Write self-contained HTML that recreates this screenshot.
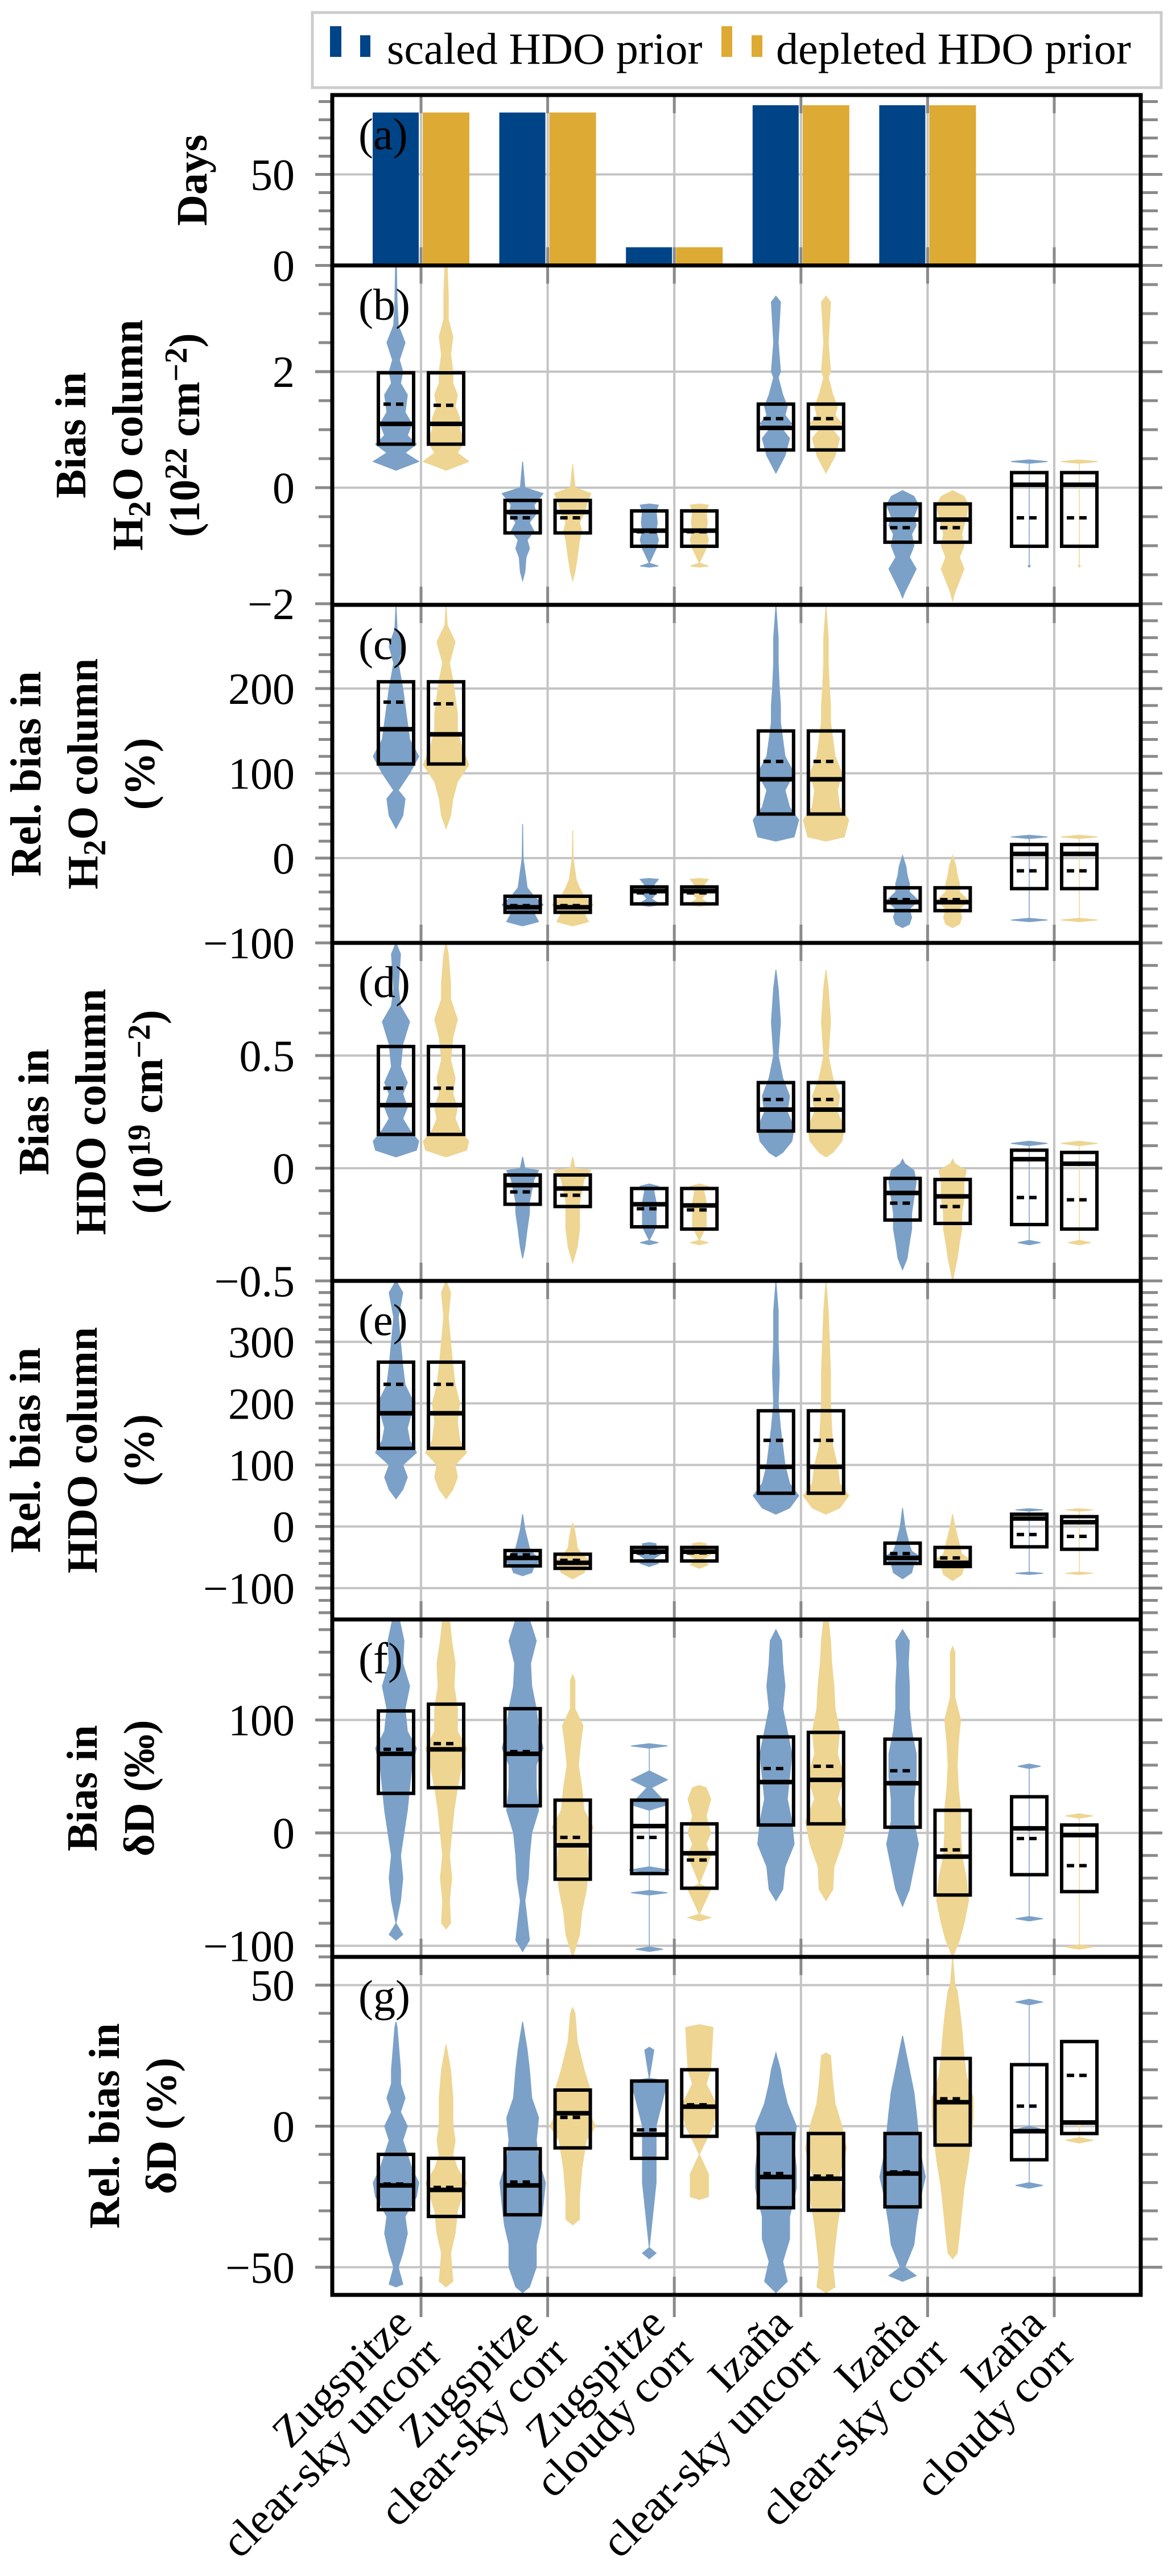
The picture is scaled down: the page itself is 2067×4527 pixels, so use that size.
<!DOCTYPE html>
<html><head><meta charset="utf-8">
<style>
html,body{margin:0;padding:0;background:#fff;}
svg, svg text{font-family:"Liberation Serif","Times New Roman","DejaVu Serif",serif;}
</style></head>
<body>
<svg id="chart" xmlns="http://www.w3.org/2000/svg" width="2067" height="4522" viewBox="0 0 2067 4522" font-family="'Liberation Serif', 'Times New Roman', serif">
  <rect x="0" y="0" width="2067" height="4522" fill="#fff"/>
  <g id="legend">
    <rect x="549" y="22" width="1492" height="132" fill="#fff" stroke="#cccccc" stroke-width="5"/>
    <g>
      <rect x="580" y="46" width="20" height="54" fill="#004488"/>
      <rect x="633" y="62" width="18" height="38" fill="#004488"/>
      <text x="680" y="112" font-size="78" font-family="'Liberation Serif', 'Times New Roman', serif">scaled HDO prior</text>
    </g>
    <g>
      <rect x="1268" y="46" width="19" height="54" fill="#DDAA33"/>
      <rect x="1321" y="62" width="19" height="38" fill="#DDAA33"/>
      <text x="1364" y="112" font-size="78" font-family="'Liberation Serif', 'Times New Roman', serif">depleted HDO prior</text>
    </g>
  </g>
  <g id="plots"></g>
</svg>
<script>
const categories = [["Zugspitze","clear-sky uncorr"],["Zugspitze","clear-sky corr"],["Zugspitze","cloudy corr"],["Izaña","clear-sky uncorr"],["Izaña","clear-sky corr"],["Izaña","cloudy corr"]];
const daysScaled = [84, 84, 10, 88, 88, 0.5];
const daysDepleted = [84, 84, 10, 88, 88, 0.5];

// boxes: [q1, median, q3, mean]
const boxScaled_b = [[0.75,1.10,1.98,1.44],[-0.78,-0.42,-0.22,-0.52],[-1.01,-0.74,-0.40,-0.76],[0.65,1.03,1.44,1.19],[-0.94,-0.55,-0.28,-0.69],[-1.01,0.05,0.26,-0.52]];
const boxDepleted_b = [[0.75,1.10,1.98,1.42],[-0.78,-0.42,-0.22,-0.52],[-1.01,-0.74,-0.40,-0.76],[0.65,1.03,1.44,1.19],[-0.94,-0.55,-0.28,-0.69],[-1.01,0.05,0.26,-0.52]];
const boxScaled_c = [[111,152,208,184],[-64,-58,-45,-56],[-54,-39,-34,-41],[52,93,150,114],[-62,-52,-35,-49],[-36,5,16,-15]];
const boxDepleted_c = [[111,146,208,182],[-64,-58,-45,-56],[-54,-39,-34,-41],[52,93,150,114],[-62,-52,-35,-49],[-36,5,16,-15]];
const boxScaled_d = [[0.15,0.28,0.54,0.355],[-0.16,-0.075,-0.03,-0.105],[-0.26,-0.16,-0.09,-0.18],[0.165,0.26,0.38,0.305],[-0.23,-0.11,-0.045,-0.155],[-0.25,0.04,0.08,-0.13]];
const boxDepleted_d = [[0.15,0.28,0.54,0.355],[-0.17,-0.09,-0.03,-0.12],[-0.27,-0.165,-0.09,-0.185],[0.165,0.26,0.38,0.305],[-0.245,-0.125,-0.05,-0.17],[-0.27,0.02,0.07,-0.14]];
const boxScaled_e = [[127,184,267,231],[-64,-51,-39,-46],[-56,-41,-34,-43],[54,97,188,140],[-60,-51,-27,-44],[-33,13,20,-13]];
const boxDepleted_e = [[127,184,267,231],[-68,-59,-45,-55],[-56,-41,-34,-43],[54,97,188,140],[-65,-59,-34,-51],[-37,7,16,-16]];
const boxScaled_f = [[35,70,108,74],[24,70,110,72],[-36,6,29,-4],[7,45,85,57],[5,44,83,55],[-37,4,32,-5]];
const boxDepleted_f = [[40,74,114,79],[-41,-11,29,-4],[-49,-18,8,-24],[8,47,89,59],[-55,-21,20,-15],[-52,-2,7,-29]];
const boxScaled_g = [[-29.6,-21,-10,-20.5],[-31.4,-21,-8,-19.8],[-11.4,-3,16,-1.3],[-28.9,-18,-2.6,-16.8],[-28.6,-16.8,-2.6,-16.2],[-11.9,-1.8,21.8,7.1]];
const boxDepleted_g = [[-32,-22.6,-11.4,-21.7],[-7.7,4.6,12.8,3.1],[-3.6,6.9,20,7.6],[-29.8,-18.6,-2.6,-17.7],[-6.7,8.5,24,9.7],[-2.6,1.3,30,18]];

// violins: [value, relative density]
const violinScaled_b = [
 [[0.3,0],[0.45,1],[0.6,0.4],[0.75,0.9],[0.9,0.5],[1.1,0.7],[1.3,0.4],[1.6,0.5],[1.8,0.2],[2.0,0.3],[2.2,0.15],[2.5,0.4],[2.8,0.1],[3.2,0.05],[3.83,0.02]],
 [[-1.6,0],[-1.45,0.1],[-1.2,0.15],[-1.05,0.3],[-0.9,0.2],[-0.75,0.5],[-0.6,0.3],[-0.45,0.6],[-0.3,0.5],[-0.1,0.9],[0.0,0.1],[0.45,0]],
 [[-1.37,0],[-1.35,0.4],[-1.3,0],[-1.05,0.3],[-0.9,0.4],[-0.75,0.3],[-0.6,0.35],[-0.4,0.3],[-0.3,0.4],[-0.28,0]],
 [[0.25,0],[0.4,0.2],[0.55,0.4],[0.7,0.5],[0.85,0.6],[1.0,0.3],[1.1,0.7],[1.25,0.4],[1.4,0.5],[1.6,0.3],[1.9,0.1],[2.0,0.2],[2.5,0.1],[3.2,0.2],[3.3,0]],
 [[-1.9,0],[-1.8,0.1],[-1.4,0.6],[-1.2,0.3],[-1.0,0.5],[-0.8,0.4],[-0.65,0.6],[-0.5,0.5],[-0.3,0.7],[-0.15,0.5],[-0.05,0]],
 [[-1.37,0],[-1.35,0.05],[-1.33,0],[0.42,0],[0.45,0.8],[0.48,0]]
];
const violinDepleted_b = [
 [[0.3,0],[0.45,1],[0.6,0.5],[0.8,0.8],[1.0,0.6],[1.2,0.6],[1.4,0.4],[1.6,0.5],[1.8,0.3],[2.0,0.3],[2.3,0.2],[2.6,0.3],[2.9,0.1],[3.3,0.1],[3.83,0.05]],
 [[-1.6,0],[-1.45,0.1],[-1.2,0.2],[-1.05,0.25],[-0.9,0.3],[-0.75,0.4],[-0.6,0.3],[-0.45,0.5],[-0.3,0.6],[-0.1,0.8],[0.0,0.1],[0.4,0]],
 [[-1.37,0],[-1.35,0.4],[-1.3,0],[-1.05,0.3],[-0.9,0.4],[-0.75,0.3],[-0.6,0.35],[-0.4,0.3],[-0.3,0.4],[-0.28,0]],
 [[0.25,0],[0.4,0.2],[0.55,0.4],[0.7,0.5],[0.85,0.6],[1.0,0.3],[1.1,0.7],[1.25,0.4],[1.4,0.5],[1.6,0.3],[1.9,0.1],[2.0,0.2],[2.5,0.1],[3.2,0.2],[3.3,0]],
 [[-1.95,0],[-1.8,0.1],[-1.4,0.5],[-1.2,0.3],[-1.0,0.5],[-0.8,0.4],[-0.65,0.5],[-0.5,0.6],[-0.3,0.7],[-0.15,0.5],[-0.05,0]],
 [[-1.37,0],[-1.35,0.05],[-1.33,0],[0.42,0],[0.45,0.8],[0.48,0]]
];
const violinScaled_c = [
 [[35,0],[50,0.3],[70,0.4],[80,0.1],[100,0.6],[120,1.0],[140,0.6],[160,0.5],[180,0.4],[200,0.3],[215,0.2],[230,0.1],[250,0.3],[270,0.05],[298,0]],
 [[-80,0],[-75,0.7],[-65,0.5],[-55,0.9],[-45,0.5],[-35,0.2],[-25,0.15],[0,0.02],[40,0]],
 [[-57,0],[-55,0.5],[-48,0.1],[-42,0.3],[-35,0.1],[-25,0.4],[-24,0]],
 [[20,0],[25,0.8],[45,1.0],[60,0.6],[80,0.4],[100,0.8],[120,0.4],[140,0.3],[160,0.2],[180,0.2],[200,0.15],[230,0.1],[260,0.1],[298,0]],
 [[-82,0],[-78,0.3],[-70,0.4],[-60,0.3],[-50,0.7],[-40,0.3],[-30,0.3],[-20,0.2],[-10,0.15],[3,0]],
 [[-75,0],[-73,0.8],[-71,0],[23,0],[25,0.8],[27,0]]
];
const violinDepleted_c = [
 [[35,0],[50,0.2],[70,0.3],[90,0.5],[110,1.0],[130,0.7],[150,0.5],[170,0.5],[190,0.4],[210,0.3],[230,0.15],[255,0.4],[275,0.05],[298,0]],
 [[-80,0],[-75,0.7],[-65,0.5],[-55,0.9],[-45,0.5],[-35,0.3],[-25,0.15],[0,0.02],[33,0]],
 [[-57,0],[-55,0.5],[-48,0.1],[-42,0.3],[-35,0.1],[-25,0.4],[-24,0]],
 [[20,0],[25,0.8],[45,1.0],[60,0.6],[80,0.5],[100,0.7],[120,0.4],[140,0.3],[160,0.2],[180,0.2],[200,0.15],[230,0.1],[260,0.1],[298,0]],
 [[-82,0],[-78,0.3],[-70,0.4],[-60,0.3],[-50,0.7],[-40,0.3],[-30,0.3],[-20,0.2],[-10,0.15],[3,0]],
 [[-75,0],[-73,0.8],[-71,0],[23,0],[25,0.8],[27,0]]
];
const violinScaled_d = [
 [[0.05,0],[0.08,0.9],[0.12,1.0],[0.17,0.6],[0.22,0.3],[0.27,0.5],[0.33,0.3],[0.38,0.5],[0.45,0.2],[0.55,0.3],[0.65,0.6],[0.72,0.2],[0.8,0.1],[0.95,0.2],[1.0,0]],
 [[-0.4,0],[-0.35,0.1],[-0.27,0.2],[-0.2,0.3],[-0.15,0.3],[-0.1,0.4],[-0.05,0.5],[-0.01,0.7],[0.0,0.1],[0.05,0]],
 [[-0.34,0],[-0.33,0.4],[-0.32,0],[-0.26,0.3],[-0.2,0.3],[-0.15,0.3],[-0.1,0.2],[-0.08,0.4],[-0.07,0]],
 [[0.05,0],[0.07,0.3],[0.12,0.7],[0.18,0.8],[0.25,0.5],[0.32,0.6],[0.4,0.3],[0.5,0.1],[0.65,0.2],[0.8,0.1],[0.88,0]],
 [[-0.45,0],[-0.4,0.2],[-0.33,0.3],[-0.27,0.4],[-0.2,0.4],[-0.13,0.5],[-0.06,0.6],[-0.01,0.5],[0.02,0.1],[0.04,0]],
 [[-0.34,0],[-0.33,0.5],[-0.32,0],[0.1,0],[0.11,0.8],[0.12,0]]
];
const violinDepleted_d = [
 [[0.05,0],[0.08,0.9],[0.12,1.0],[0.17,0.6],[0.22,0.4],[0.27,0.5],[0.33,0.3],[0.4,0.4],[0.48,0.2],[0.58,0.3],[0.66,0.5],[0.75,0.2],[0.82,0.2],[0.95,0.1],[1.0,0]],
 [[-0.42,0],[-0.35,0.2],[-0.27,0.3],[-0.2,0.3],[-0.15,0.3],[-0.1,0.4],[-0.05,0.5],[-0.01,0.8],[0.0,0.1],[0.05,0]],
 [[-0.34,0],[-0.33,0.4],[-0.32,0],[-0.26,0.3],[-0.2,0.3],[-0.15,0.3],[-0.1,0.2],[-0.08,0.4],[-0.07,0]],
 [[0.05,0],[0.07,0.3],[0.12,0.7],[0.18,0.8],[0.25,0.5],[0.32,0.6],[0.4,0.3],[0.5,0.1],[0.65,0.2],[0.8,0.1],[0.88,0]],
 [[-0.5,0],[-0.4,0.2],[-0.33,0.3],[-0.27,0.4],[-0.2,0.4],[-0.13,0.5],[-0.06,0.5],[-0.01,0.6],[0.02,0.1],[0.04,0]],
 [[-0.34,0],[-0.33,0.5],[-0.32,0],[0.1,0],[0.11,0.8],[0.12,0]]
];
const violinScaled_e = [
 [[45,0],[60,0.3],[80,0.5],[100,0.3],[120,0.9],[140,0.6],[160,0.5],[200,0.8],[230,0.4],[260,0.3],[300,0.2],[340,0.1],[380,0.3],[399,0]],
 [[-80,0],[-75,0.4],[-65,0.5],[-55,0.8],[-45,0.5],[-35,0.3],[-20,0.2],[-5,0.1],[20,0]],
 [[-65,0],[-60,0.4],[-55,0.1],[-45,0.5],[-35,0.3],[-28,0.3],[-26,0]],
 [[20,0],[30,0.6],[50,1.0],[70,0.6],[100,0.4],[130,0.3],[160,0.2],[200,0.1],[250,0.15],[300,0.1],[350,0.1],[399,0]],
 [[-85,0],[-75,0.4],[-60,0.5],[-50,0.8],[-40,0.4],[-30,0.3],[-15,0.2],[0,0.1],[30,0]],
 [[-78,0],[-76,0.6],[-74,0],[25,0],[27,0.6],[29,0]]
];
const violinDepleted_e = [
 [[45,0],[60,0.3],[80,0.5],[100,0.4],[120,0.9],[140,0.6],[170,0.5],[200,0.6],[230,0.4],[260,0.3],[300,0.2],[340,0.1],[380,0.2],[399,0]],
 [[-85,0],[-75,0.5],[-65,0.6],[-55,0.7],[-45,0.4],[-35,0.2],[-20,0.15],[0,0.05],[5,0]],
 [[-68,0],[-62,0.4],[-55,0.1],[-45,0.5],[-35,0.3],[-28,0.3],[-26,0]],
 [[20,0],[30,0.6],[50,1.0],[70,0.6],[100,0.5],[130,0.3],[160,0.25],[200,0.2],[250,0.2],[300,0.15],[350,0.1],[399,0]],
 [[-88,0],[-78,0.4],[-65,0.5],[-55,0.8],[-45,0.4],[-30,0.3],[-15,0.2],[0,0.1],[20,0]],
 [[-78,0],[-76,0.6],[-74,0],[25,0],[27,0.6],[29,0]]
];
const violinScaled_f = [
 [[-95,0],[-90,0.3],[-80,0],[-60,0.2],[-40,0.3],[-20,0.2],[0,0.35],[20,0.5],[40,0.6],[60,0.7],[75,0.9],[90,0.5],[110,0.4],[130,0.6],[150,0.3],[170,0.35],[189,0.15]],
 [[-105,0],[-95,0.3],[-60,0.1],[-40,0.25],[-20,0.3],[0,0.4],[20,0.7],[40,0.6],[60,0.6],[75,0.9],[90,0.7],[110,0.6],[130,0.4],[150,0.35],[170,0.6],[189,0.3]],
 [[-105,0],[-103,0.6],[-101,0],[-55,0],[-53,0.8],[-51,0],[-35,0],[-33,0.9],[-30,0],[20,0],[25,0.8],[40,0.1],[47,0.8],[55,0],[75,0],[77,0.8],[79,0]],
 [[-60,0],[-50,0.3],[-30,0.4],[-10,0.8],[10,0.7],[30,0.5],[50,0.6],[70,0.7],[90,0.5],[110,0.3],[130,0.4],[150,0.3],[170,0.25],[180,0]],
 [[-65,0],[-50,0.3],[-30,0.5],[-10,0.7],[10,0.5],[30,0.5],[50,0.6],[70,0.6],[90,0.4],[110,0.3],[130,0.3],[150,0.25],[170,0.3],[180,0]],
 [[-78,0],[-76,0.6],[-74,0],[2,0],[4,0.6],[6,0],[57,0],[59,0.5],[61,0]]
];
const violinDepleted_f = [
 [[-85,0],[-80,0.2],[-60,0.15],[-40,0.25],[-20,0.15],[0,0.25],[20,0.35],[40,0.5],[60,0.7],[75,0.9],[90,0.5],[110,0.5],[130,0.35],[150,0.4],[170,0.25],[189,0.15]],
 [[-110,0],[-90,0.3],[-70,0.4],[-50,0.6],[-30,0.7],[-10,0.6],[5,0.9],[20,0.5],[40,0.4],[60,0.25],[80,0.35],[95,0.45],[110,0.1],[135,0.1],[140,0]],
 [[-78,0],[-75,0.5],[-72,0],[-50,0.5],[-45,0],[-30,0.3],[-20,0.5],[-10,0.3],[0,0.5],[15,0.3],[30,0.5],[40,0.3],[42,0]],
 [[-60,0],[-50,0.3],[-30,0.35],[-10,0.7],[10,0.9],[30,0.5],[50,0.8],[70,0.5],[90,0.6],[110,0.4],[130,0.35],[150,0.25],[170,0.2],[189,0.1]],
 [[-110,0],[-95,0.3],[-80,0.5],[-60,0.7],[-40,0.6],[-20,0.4],[0,0.35],[20,0.35],[40,0.25],[60,0.2],[80,0.25],[100,0.35],[120,0.1],[160,0.1],[165,0]],
 [[-103,0],[-101,0.6],[-99,0],[13,0],[15,0.6],[17,0]]
];
const violinScaled_g = [
 [[-57,0],[-56,0.3],[-50,0.1],[-45,0.3],[-38,0.5],[-32,0.4],[-25,0.9],[-20,1.0],[-15,0.7],[-10,0.5],[-5,0.3],[0,0.5],[5,0.2],[10,0.4],[15,0.2],[20,0.2],[35,0.05],[37,0]],
 [[-59,0],[-57,0.3],[-50,0.6],[-42,0.6],[-35,0.8],[-28,0.9],[-20,1.0],[-12,0.7],[-5,0.6],[3,0.7],[10,0.4],[20,0.3],[27,0.2],[37,0]],
 [[-47,0],[-45,0.3],[-43,0],[-20,0.3],[-17,0.3],[-10,0.3],[0,0.3],[16,0.8],[17,0],[27,0.2],[28,0]],
 [[-59,0],[-55,0.5],[-48,0.3],[-40,0.6],[-32,0.6],[-22,0.9],[-15,0.9],[-8,0.8],[0,0.9],[8,0.5],[15,0.3],[20,0.2],[26,0]],
 [[-55,0],[-53,0.6],[-50,0.1],[-42,0.5],[-35,0.6],[-25,0.8],[-18,1.0],[-10,0.8],[-3,0.7],[5,0.6],[12,0.5],[20,0.3],[32,0]],
 [[-22,0],[-21,0.6],[-20,0],[-2,0],[-1,0.5],[0,0],[43,0],[44,0.6],[45,0]]
];
const violinDepleted_g = [
 [[-57,0],[-55,0.3],[-45,0.2],[-38,0.4],[-30,0.5],[-25,0.7],[-20,0.9],[-15,0.5],[-10,0.3],[-5,0.4],[0,0.3],[10,0.3],[20,0.2],[29,0]],
 [[-35,0],[-33,0.3],[-25,0.3],[-15,0.4],[-5,0.6],[0,1.0],[5,0.7],[12,0.8],[20,0.5],[30,0.2],[40,0.1],[42,0]],
 [[-26,0],[-25,0.4],[-17,0.4],[-10,0],[0,0.6],[7,0.8],[15,0.3],[20,0.5],[35,0.6],[36,0]],
 [[-59,0],[-57,0.4],[-50,0.3],[-42,0.4],[-35,0.5],[-25,0.7],[-17,0.6],[-8,0.9],[0,0.7],[8,0.4],[15,0.3],[25,0.2],[26,0]],
 [[-47,0],[-45,0.2],[-38,0.3],[-30,0.4],[-22,0.5],[-12,0.7],[-5,0.8],[3,0.9],[10,0.9],[18,0.6],[25,0.5],[35,0.4],[42,0.3],[48,0.2],[50,0.1],[60,0]],
 [[-6,0],[-5,0.6],[-4,0],[0,0],[1,0.3],[2,0]]
];

const yTicks_a = [0, 50];
const yTicks_b = [-2, 0, 2];
const yTicks_c = [-100, 0, 100, 200];
const yTicks_d = [-0.5, 0, 0.5];
const yTicks_e = [-100, 0, 100, 200, 300];
const yTicks_f = [-100, 0, 100];
const yTicks_g = [-50, 0, 50];
const yTickLabels_d = ["−0.5", "0", "0.5"];

const NS = "http://www.w3.org/2000/svg";
const FONT = "'Liberation Serif', 'Times New Roman', serif";
const root = document.getElementById('plots');
const X0 = 584, X1 = 2005;
const BLUE_BAR = "#004488", ORANGE_BAR = "#DDAA33";
const BLUE_V = "#7CA1C8", ORANGE_V = "#EED592";
function xC(i){ return 740 + i * 222.6; }
function mk(tag, attrs, parent){ const e = document.createElementNS(NS, tag); for (const k in attrs) e.setAttribute(k, attrs[k]); if (tag === 'text') e.setAttribute('font-family', FONT); (parent||root).appendChild(e); return e; }
function fmt(v){ return (v < 0 ? "−" : "") + Math.abs(v); }

const panels = [
 {id:'a', top:167, bottom:466.5, min:0, max:93.6, ticks:yTicks_a, minor:10, lastX:336, title:[["Days"]]},
 {id:'b', top:466.5, bottom:1063, min:-2.02, max:3.83, ticks:yTicks_b, minor:0.5, lastX:323, box:[boxScaled_b, boxDepleted_b], vio:[violinScaled_b, violinDepleted_b],
  title:[["Bias in"],[["H"],["2","sub"],["O column"]],[["(10"],["22","sup"],[" cm"],["−2","sup"],[")"]]]},
 {id:'c', top:1063, bottom:1657, min:-100, max:298.7, ticks:yTicks_c, minor:20, lastX:244, box:[boxScaled_c, boxDepleted_c], vio:[violinScaled_c, violinDepleted_c],
  title:[["Rel. bias in"],[["H"],["2","sub"],["O column"]],["(%)"]]},
 {id:'d', top:1657, bottom:2251, min:-0.5, max:1.0, ticks:yTicks_d, labels:yTickLabels_d, minor:0.1, lastX:258, box:[boxScaled_d, boxDepleted_d], vio:[violinScaled_d, violinDepleted_d],
  title:[["Bias in"],["HDO column"],[["(10"],["19","sup"],[" cm"],["−2","sup"],[")"]]]},
 {id:'e', top:2251, bottom:2846, min:-151, max:399, ticks:yTicks_e, minor:20, lastX:243, box:[boxScaled_e, boxDepleted_e], vio:[violinScaled_e, violinDepleted_e],
  title:[["Rel. bias in"],["HDO column"],["(%)"]]},
 {id:'f', top:2846, bottom:3439, min:-109.8, max:189, ticks:yTicks_f, minor:20, lastX:243, box:[boxScaled_f, boxDepleted_f], vio:[violinScaled_f, violinDepleted_f],
  title:[["Bias in"],["δD (‰)"]]},
 {id:'g', top:3439, bottom:4033, min:-59.8, max:60, ticks:yTicks_g, minor:10, lastX:282, box:[boxScaled_g, boxDepleted_g], vio:[violinScaled_g, violinDepleted_g],
  title:[["Rel. bias in"],["δD (%)"]]}
];

const defs = mk('defs', {});
panels.forEach(p => {
  const yS = v => p.top + (p.max - v) / (p.max - p.min) * (p.bottom - p.top);
  const g = mk('g', {});
  
  
  const cp = mk('clipPath', {id:'clip-' + p.id}, defs);
  mk('rect', {x:X0, y:p.top, width:X1 - X0, height:p.bottom - p.top}, cp);
  const grid = mk('g', {stroke:'#c4c4c4', 'stroke-width':4}, g);
  
  
  categories.forEach((c, i) => mk('line', {x1:xC(i), x2:xC(i), y1:p.top, y2:p.bottom}, grid));
  p.ticks.forEach(t => mk('line', {x1:X0, x2:X1, y1:yS(t), y2:yS(t)}, grid));
  const tk = mk('g', {stroke:'#8a8a8a', 'stroke-width':5}, g);
  
  
  const start = Math.ceil(p.min / p.minor - 1e-6);
  for (let k = start; k * p.minor <= p.max + 1e-9; k++) {
    const y = yS(k * p.minor);
    const major = p.ticks.some(t => Math.abs(t - k * p.minor) < 1e-6);
    mk('line', {x1:X0 - (major ? 30 : 24), x2:X0, y1:y, y2:y}, tk);
    mk('line', {x1:X1, x2:X1 + (major ? 38 : 30), y1:y, y2:y}, tk);
  }
  p.ticks.forEach(t => mk('line', {x1:X0 - 30, x2:X0, y1:yS(t), y2:yS(t)}, tk));
  categories.forEach((c, i) => {
    mk('line', {x1:xC(i), x2:xC(i), y1:p.bottom - 32, y2:p.bottom}, tk);
    mk('line', {x1:xC(i), x2:xC(i), y1:p.top, y2:p.top + 32}, tk);
  });
  const marks = mk('g', {'clip-path':'url(#clip-' + p.id + ')'}, g);
  if (p.id === 'a') {
    categories.forEach((c, i) => {
      const b1 = mk('rect', {x:xC(i) - 85, width:81, y:yS(daysScaled[i]), height:yS(0) - yS(daysScaled[i]), fill:BLUE_BAR}, marks);
      
      
      const b2 = mk('rect', {x:xC(i) + 3, width:82, y:yS(daysDepleted[i]), height:yS(0) - yS(daysDepleted[i]), fill:ORANGE_BAR}, marks);
      
      
    });
  } else {
    [0, 1].forEach(s => {
      const off = s === 0 ? -44 : 44;
      const col = s === 0 ? BLUE_V : ORANGE_V;
      p.vio[s].forEach((prof, i) => {
        const cx = xC(i) + off;
        const right = prof.map(q => (cx + q[1] * 40).toFixed(1) + ',' + yS(q[0]).toFixed(1));
        const left = prof.slice().reverse().map(q => (cx - q[1] * 40).toFixed(1) + ',' + yS(q[0]).toFixed(1));
        const poly = mk('polygon', {points:right.concat(left).join(' '), fill:col, stroke:col, 'stroke-width':1.5}, marks);
        
        
      });
    });
    [0, 1].forEach(s => {
      const off = s === 0 ? -44 : 44;
      p.box[s].forEach((bx, i) => {
        const cx = xC(i) + off;
        const bg = mk('g', {}, marks);
        
        
        mk('rect', {x:cx - 31, width:62, y:yS(bx[2]), height:yS(bx[0]) - yS(bx[2]), fill:'none', stroke:'#000', 'stroke-width':6}, bg);
        mk('line', {x1:cx - 31, x2:cx + 31, y1:yS(bx[1]), y2:yS(bx[1]), stroke:'#000', 'stroke-width':8}, bg);
        mk('line', {x1:cx - 22, x2:cx + 22, y1:yS(bx[3]), y2:yS(bx[3]), stroke:'#000', 'stroke-width':6, 'stroke-dasharray':'13 9'}, bg);
      });
    });
  }
  const fr = mk('rect', {x:X0, y:p.top, width:X1 - X0, height:p.bottom - p.top, fill:'none', stroke:'#000', 'stroke-width':7}, g);
  
  
  const pl = mk('text', {x:630, y:p.top + 95, 'font-size':78}, g);
  pl.textContent = '(' + p.id + ')';
  
  
  p.ticks.forEach((t, k) => {
    const tl = mk('text', {x:518, y:yS(t) + 27, 'font-size':78, 'text-anchor':'end'}, g);
    tl.textContent = p.labels ? p.labels[k] : fmt(t);
    
    
  });
  const cy = (p.top + p.bottom) / 2;
  const n = p.title.length;
  const tg = mk('g', {}, g);
  
  
  p.title.forEach((line, li) => {
    const lx = p.lastX - (n - 1 - li) * 100;
    const t = mk('text', {'font-size':76, 'font-weight':'bold', 'text-anchor':'middle', transform:'translate(' + (lx + 27) + ',' + cy + ') rotate(-90)'}, tg);
    if (typeof line[0] === 'string') { t.textContent = line[0]; }
    else {
      line.forEach(seg => {
        const ts = mk('tspan', {}, t);
        ts.textContent = seg[0];
        if (seg[1] === 'sub') { ts.setAttribute('baseline-shift', '-25%'); ts.setAttribute('font-size', '56'); }
        if (seg[1] === 'sup') { ts.setAttribute('baseline-shift', '40%'); ts.setAttribute('font-size', '56'); }
      });
    }
  });
});

const xt = mk('g', {stroke:'#8a8a8a', 'stroke-width':5});


categories.forEach((c, i) => mk('line', {x1:xC(i), x2:xC(i), y1:4036, y2:4072}, xt));
categories.forEach((c, i) => {
  const g = mk('g', {transform:'translate(' + (xC(i) + 40) + ',4140) rotate(-45)'});
  
  
  const t = mk('text', {'font-size':78, 'text-anchor':'end'}, g);
  const t1 = mk('tspan', {x:0, y:-74}, t); t1.textContent = c[0];
  const t2 = mk('tspan', {x:0, y:0}, t); t2.textContent = c[1];
});
</script>
</body></html>
